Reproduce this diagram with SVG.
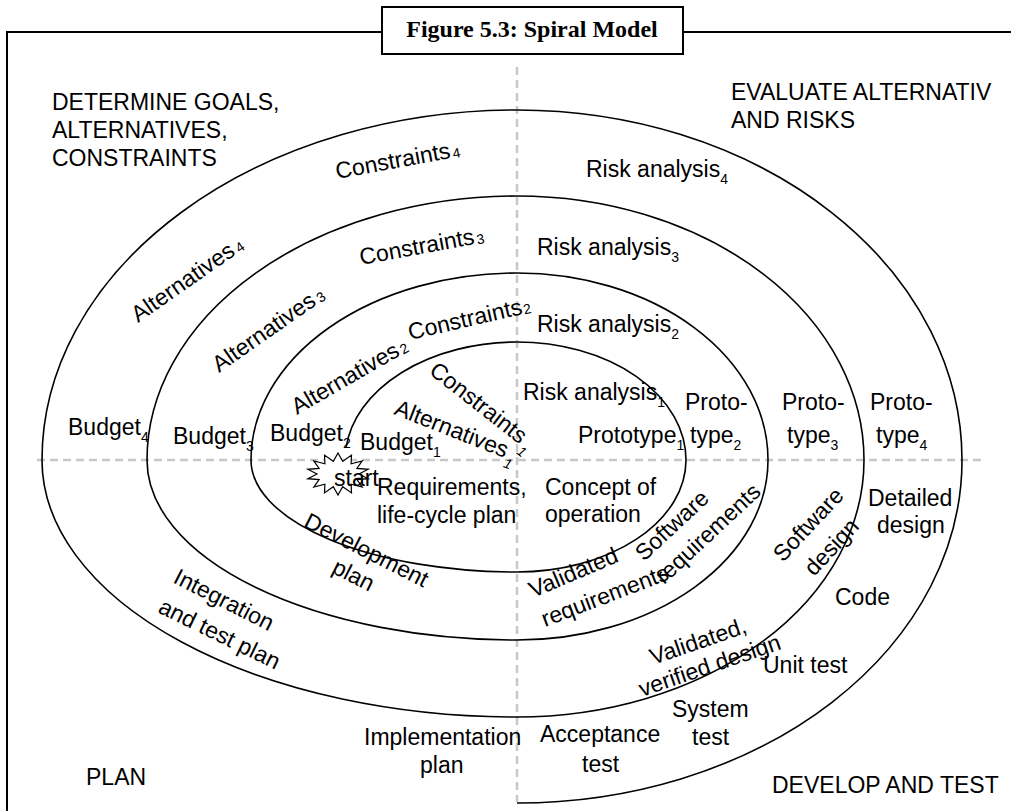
<svg xmlns="http://www.w3.org/2000/svg" width="1011" height="811" viewBox="0 0 1011 811">
<style>
.t{font-family:"Liberation Sans",Arial,sans-serif;font-size:23px;fill:#000}
.s{font-size:14px}
.axis{stroke:#c8c8c8;stroke-width:2.5;stroke-dasharray:8 5;fill:none}
.sp{stroke:#000;stroke-width:1.6;fill:none}
.fr{stroke:#000;stroke-width:2;fill:none}
</style>
<rect width="1011" height="811" fill="#fff"/>
<g id="frame">
<path class="fr" d="M7 811 V32 H1011"/>
<rect x="382" y="7" width="301" height="47" fill="#fff" stroke="#000" stroke-width="2"/>
<text x="532" y="37" text-anchor="middle" style="font-family:'Liberation Serif','Times New Roman',serif;font-weight:bold;font-size:24px">Figure 5.3: Spiral Model</text>
</g>
<g id="axes">
<line class="axis" x1="517" y1="67" x2="517" y2="802"/>
<line class="axis" x1="37" y1="460" x2="986" y2="460"/>
</g>
<g id="connectors">
<path id="spiral" class="sp" d="M346 448 A172 118 0 0 1 517 342 A169 118 0 0 1 686 460 A169 112 0 0 1 517 572 A266 112 0 0 1 251 460 A266 187 0 0 1 517 273 A251 187 0 0 1 768 460 A251 180 0 0 1 517 640 A370 180 0 0 1 147 460 A370 264 0 0 1 517 196 A347 264 0 0 1 864 460 A347 257 0 0 1 517 717 A475 257 0 0 1 42 460 A475 350 0 0 1 517 110 A445 350 0 0 1 962 460 A445 343 0 0 1 517 803"/>
</g>
<g id="start">
<polygon fill="#fff" stroke="#000" stroke-width="1.2" points="338,453 342.7,461.3 351.5,455.1 351.1,463.8 362.2,460.9 356.9,468.4 368.2,469.3 359,474 368.2,478.7 356.9,479.6 362.2,487.1 351.1,484.2 351.5,492.9 342.7,486.7 338,495 333.3,486.7 324.5,492.9 324.9,484.2 313.8,487.1 319.1,479.6 307.8,478.7 317,474 307.8,469.3 319.1,468.4 313.8,460.9 324.9,463.8 324.5,455.1 333.3,461.3"/>
<text class="t" x="334" y="486">start</text>
</g>
<g id="quadrant-goals">
<text class="t" x="52" y="110">DETERMINE GOALS,</text>
<text class="t" x="52" y="138">ALTERNATIVES,</text>
<text class="t" x="52" y="166">CONSTRAINTS</text>
<text class="t" transform="translate(337,179) rotate(-10.5)">Constraints<tspan class="s" dx="2" dy="1">4</tspan></text>
<text class="t" transform="translate(138,323) rotate(-35)">Alternatives<tspan class="s" dx="3" dy="1">4</tspan></text>
<text class="t" transform="translate(361,265) rotate(-10.5)">Constraints<tspan class="s" dx="2" dy="1">3</tspan></text>
<text class="t" transform="translate(219,373) rotate(-35)">Alternatives<tspan class="s" dx="3" dy="1">3</tspan></text>
<text class="t" transform="translate(410,340) rotate(-13)">Constraints<tspan class="s" dx="1" dy="1">2</tspan></text>
<text class="t" transform="translate(297,415) rotate(-30)">Alternatives<tspan class="s" dx="2" dy="1">2</tspan></text>
<text class="t" transform="translate(428,373) rotate(38)">Constraints<tspan class="s" dx="2" dy="9" font-style="italic">1</tspan></text>
<text class="t" transform="translate(393,414) rotate(21.5)">Alternatives<tspan class="s" dx="1" dy="9" font-style="italic">1</tspan></text>
<text class="t" x="68" y="435">Budget<tspan class="s" dy="7">4</tspan></text>
<text class="t" x="173" y="444">Budget<tspan class="s" dy="7">3</tspan></text>
<text class="t" x="270" y="441">Budget<tspan class="s" dy="7">2</tspan></text>
<text class="t" x="360" y="450">Budget<tspan class="s" dy="7">1</tspan></text>
</g>
<g id="quadrant-risks">
<text class="t" x="731" y="100">EVALUATE ALTERNATIV</text>
<text class="t" x="731" y="128">AND RISKS</text>
<text class="t" x="586" y="177">Risk analysis<tspan class="s" dy="7">4</tspan></text>
<text class="t" x="537" y="255">Risk analysis<tspan class="s" dy="7">3</tspan></text>
<text class="t" x="537" y="332">Risk analysis<tspan class="s" dy="7">2</tspan></text>
<text class="t" x="523" y="400">Risk analysis<tspan class="s" dy="7">1</tspan></text>
<text class="t" x="578" y="443">Prototype<tspan class="s" dy="7">1</tspan></text>
<text class="t" x="685" y="410">Proto-</text>
<text class="t" x="690" y="443">type<tspan class="s" dy="7">2</tspan></text>
<text class="t" x="782" y="410">Proto-</text>
<text class="t" x="787" y="443">type<tspan class="s" dy="7">3</tspan></text>
<text class="t" x="870" y="410">Proto-</text>
<text class="t" x="876" y="443">type<tspan class="s" dy="7">4</tspan></text>
</g>
<g id="quadrant-develop">
<text class="t" x="545" y="495">Concept of</text>
<text class="t" x="545" y="522">operation</text>
<text class="t" transform="translate(533,598) rotate(-23)">Validated</text>
<text class="t" transform="translate(545,627) rotate(-21)">requirements</text>
<text class="t" transform="translate(644,562) rotate(-43)">Software</text>
<text class="t" transform="translate(664,585) rotate(-43)">requirements</text>
<text class="t" transform="translate(783,563) rotate(-47)">Software</text>
<text class="t" transform="translate(814,577) rotate(-47)">design</text>
<text class="t" x="868" y="506">Detailed</text>
<text class="t" x="877" y="533">design</text>
<text class="t" x="835" y="605">Code</text>
<text class="t" x="763" y="673">Unit test</text>
<text class="t" transform="translate(653,665) rotate(-19)">Validated,</text>
<text class="t" transform="translate(642,697) rotate(-19)">verified design</text>
<text class="t" x="672" y="717">System</text>
<text class="t" x="692" y="745">test</text>
<text class="t" x="540" y="742">Acceptance</text>
<text class="t" x="582" y="772">test</text>
<text class="t" x="772" y="793">DEVELOP AND TEST</text>
</g>
<g id="quadrant-plan">
<text class="t" x="377" y="495">Requirements,</text>
<text class="t" x="377" y="523">life-cycle plan</text>
<text class="t" text-anchor="middle" transform="translate(363,557) rotate(27)">Development</text>
<text class="t" text-anchor="middle" transform="translate(350,582) rotate(27)">plan</text>
<text class="t" transform="translate(172,582) rotate(27)">Integration</text>
<text class="t" transform="translate(157,612) rotate(26)">and test plan</text>
<text class="t" x="364" y="745">Implementation</text>
<text class="t" x="420" y="773">plan</text>
<text class="t" x="86" y="785">PLAN</text>
</g>
</svg>
